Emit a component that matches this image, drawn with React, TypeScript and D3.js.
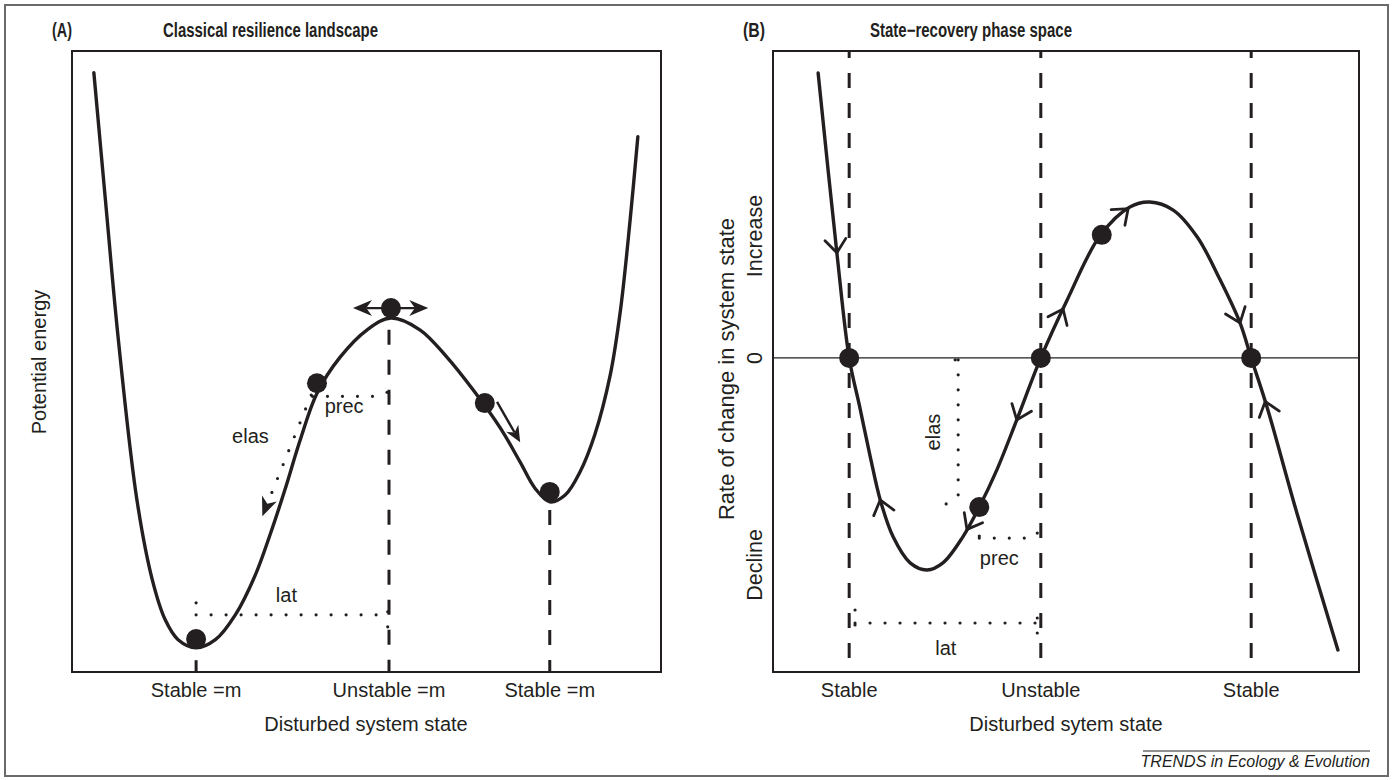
import React from 'react';
import * as d3 from 'd3';

const W = 1396;
const H = 780;
const INK = '#231f20';
const FONT = '"Liberation Sans", Arial, Helvetica, sans-serif';

// (A) potential landscape
const stateA = [0.41, 0.59, 0.79, 1.08, 1.32, 1.52, 1.72, 2.0, 2.3, 2.61, 2.92, 3.15, 3.38, 3.62, 3.88, 4.24, 4.66, 5.03, 5.48, 5.9, 6.31, 6.73, 7.04, 7.27, 7.5, 7.74, 7.97, 8.2, 8.44, 8.6, 8.75, 8.87];
const energyA = [9.65, 7.6, 5.36, 2.77, 1.48, 0.84, 0.52, 0.39, 0.52, 0.92, 1.56, 2.21, 2.93, 3.74, 4.49, 5.07, 5.51, 5.7, 5.51, 5.07, 4.54, 3.93, 3.38, 2.96, 2.74, 2.85, 3.22, 3.82, 4.78, 5.83, 7.28, 8.62];
const ticksA = [2, 5, 7.5];
const tickLabelsA = ['Stable =m', 'Unstable =m', 'Stable =m'];
const guideTopA = [0.19, 5.51, 2.61];
const ballStateA = [2.0, 3.88, 5.03, 6.49, 7.5];
const ballEnergyA = [0.53, 4.65, 5.86, 4.33, 2.9];

// (B) state-recovery phase space
const stateB = [0.77, 1.09, 1.3, 1.48, 1.66, 1.83, 2.05, 2.34, 2.63, 2.9, 3.24, 3.52, 3.82, 4.16, 4.57, 5.02, 5.58, 6.09, 6.43, 6.83, 7.24, 7.63, 7.97, 8.16, 8.43, 8.94, 9.64];
const rateB = [9.19, 3.39, 0, -1.58, -3.19, -4.58, -5.77, -6.61, -6.84, -6.61, -5.77, -4.81, -3.61, -2.0, 0, 1.87, 3.94, 4.87, 5.03, 4.77, 3.9, 2.52, 1.13, 0, -1.58, -5.0, -9.42];
const ticksB = [1.3, 4.57, 8.16];
const tickLabelsB = ['Stable', 'Unstable', 'Stable'];
const ballStateB = [1.3, 4.57, 8.16, 5.61, 3.52];
const ballRateB = [0, 0, 0, 3.97, -4.81];
const chevronStateB = [1.09, 1.83, 3.31, 4.16, 4.95, 6.06, 7.97, 8.4];

type P = [number, number];

function interp(xs: number[], ys: number[], x: number) {
  let i = d3.bisectRight(xs, x) - 1;
  i = Math.max(0, Math.min(xs.length - 2, i));
  const t = (x - xs[i]) / (xs[i + 1] - xs[i]);
  return ys[i] + t * (ys[i + 1] - ys[i]);
}

// filled, notched arrow head; returns [path, notch point]
function head(tip: P, from: P, len = 17, half = 7.5): [string, P] {
  const dx = tip[0] - from[0];
  const dy = tip[1] - from[1];
  const n = Math.hypot(dx, dy);
  const ux = dx / n, uy = dy / n;
  const px = -uy, py = ux;
  const bx = tip[0] - ux * len, by = tip[1] - uy * len;
  const notch: P = [tip[0] - ux * len * 0.7, tip[1] - uy * len * 0.7];
  const d = `M${tip[0]},${tip[1]}L${bx + px * half},${by + py * half}L${notch[0]},${notch[1]}L${bx - px * half},${by - py * half}Z`;
  return [d, notch];
}

const Dots = ({ a, b }: { a: P; b: P }) => (
  <line x1={a[0]} y1={a[1]} x2={b[0]} y2={b[1]} stroke={INK} strokeWidth={3.2}
    strokeLinecap="round" strokeDasharray="0 15" />
);

export default function App() {
  const xA = d3.scaleLinear().domain([0.07, 9.23]).range([72, 661]);
  const yA = d3.scaleLinear().domain([0, 10]).range([672, 51]);
  const xB = d3.scaleLinear().domain([0, 10]).range([773, 1359]);
  const yB = d3.scaleLinear().domain([-10.13, 9.9]).range([672, 51]);

  const lineA = d3.line<number>().x(d => xA(d)).y((d, i) => yA(energyA[i])).curve(d3.curveCatmullRom.alpha(0.5));
  const lineB = d3.line<number>().x(d => xB(d)).y((d, i) => yB(rateB[i])).curve(d3.curveCatmullRom.alpha(0.5));

  const pA = (s: number, e: number): P => [xA(s), yA(e)];
  const pB = (s: number, r: number): P => [xB(s), yB(r)];

  // panel A arrows
  const pushL = pA(4.44, 5.86), pushR = pA(5.61, 5.86), pushC = pA(5.03, 5.86);
  const [hL, nL] = head(pushL, pushC, 19, 8);
  const [hR, nR] = head(pushR, pushC, 19, 8);
  const slideFrom = pA(6.68, 4.35), slideTo = pA(7.04, 3.7);
  const [hS, nS] = head(slideTo, slideFrom, 16, 7);
  const elasFrom = pA(3.79, 4.46), elasTo = pA(3.03, 2.51);
  const [hE, nE] = head(elasTo, elasFrom, 19, 8);

  // chevrons along B, pointing the way the state moves
  const chevrons = chevronStateB.map(s => {
    const h = 0.04;
    const r = interp(stateB, rateB, s);
    const a = pB(s - h, interp(stateB, rateB, s - h));
    const b = pB(s + h, interp(stateB, rateB, s + h));
    const sg = Math.sign(r);
    let dx = (b[0] - a[0]) * sg, dy = (b[1] - a[1]) * sg;
    const n = Math.hypot(dx, dy);
    dx /= n; dy /= n;
    const tip = pB(s, r);
    const L = 17, th = (38 * Math.PI) / 180;
    const c = Math.cos(th), sn = Math.sin(th);
    const a1: P = [tip[0] - L * (c * dx - sn * dy), tip[1] - L * (c * dy + sn * dx)];
    const a2: P = [tip[0] - L * (c * dx + sn * dy), tip[1] - L * (c * dy - sn * dx)];
    return `M${a1[0]},${a1[1]}L${tip[0]},${tip[1]}L${a2[0]},${a2[1]}`;
  });

  const zeroY = yB(0);
  const txt = { fontFamily: FONT, fontSize: 20, fill: INK } as const;
  const bold = { fontFamily: FONT, fontWeight: 'bold', fontSize: 19.5, fill: INK, lengthAdjust: 'spacingAndGlyphs' } as const;

  // bracket end bars (vertical / horizontal)
  const vbar = (p: P, up = 7, down = 8) => <Dots a={[p[0], p[1] - up]} b={[p[0], p[1] + down]} />;
  const hbar = (p: P, l = 7, r = 8) => <Dots a={[p[0] - l, p[1]]} b={[p[0] + r, p[1]]} />;

  const latA0 = pA(2.0, 0.92), latA1 = pA(4.98, 0.92);
  const precA0 = pA(3.81, 4.44), precA1 = pA(4.97, 4.44);
  const elasB0 = pB(3.16, -0.06), elasB1 = pB(3.16, -4.71);
  const precB0 = pB(3.52, -5.81), precB1 = pB(4.51, -5.81);
  const latB0 = pB(1.4, -8.55), latB1 = pB(4.51, -8.55);

  return (
    <svg width={W} height={H} style={{ position: 'absolute', left: 0, top: 0, background: '#fff' }}>
      <rect x={5} y={5} width={1383} height={771} fill="none" stroke="#6a6a6a" strokeWidth={2} />

      {/* ---------- Panel A ---------- */}
      <text {...bold} x={52} y={37} textLength={20}>(A)</text>
      <text {...bold} x={163} y={37} textLength={215}>Classical resilience landscape</text>
      <rect x={72} y={51} width={589} height={621} fill="none" stroke={INK} strokeWidth={2} />

      {ticksA.map((t, i) => (
        <line key={'ga' + i} x1={xA(t)} x2={xA(t)} y1={yA(guideTopA[i])} y2={672} stroke={INK} strokeWidth={3} strokeDasharray="15 15" />
      ))}

      <Dots a={latA0} b={latA1} />
      {vbar(latA0, 12, 3)}
      {vbar(latA1, 3, 13)}
      <Dots a={precA0} b={precA1} />
      {vbar(precA1, 4, 11)}
      <Dots a={elasFrom} b={nE} />
      <path d={hE} fill={INK} />

      <path d={lineA(stateA) || ''} fill="none" stroke={INK} strokeWidth={3.4} strokeLinecap="round" />

      <line x1={nL[0]} y1={nL[1]} x2={nR[0]} y2={nR[1]} stroke={INK} strokeWidth={2.4} />
      <path d={hL} fill={INK} />
      <path d={hR} fill={INK} />
      <line x1={slideFrom[0]} y1={slideFrom[1]} x2={nS[0]} y2={nS[1]} stroke={INK} strokeWidth={2.4} />
      <path d={hS} fill={INK} />

      {ballStateA.map((s, i) => (
        <circle key={'ba' + i} cx={xA(s)} cy={yA(ballEnergyA[i])} r={10} fill={INK} />
      ))}

      <text {...txt} x={xA(2.56)} y={yA(3.69)}>elas</text>
      <text {...txt} x={xA(4.0)} y={yA(4.17)}>prec</text>
      <text {...txt} x={xA(3.24)} y={yA(1.13)}>lat</text>

      {ticksA.map((t, i) => (
        <text key={'ta' + i} {...txt} x={xA(t)} y={697} textAnchor="middle">{tickLabelsA[i]}</text>
      ))}
      <text {...txt} x={366} y={731} textAnchor="middle">Disturbed system state</text>
      <text {...txt} transform="translate(46,362) rotate(-90)" textAnchor="middle">Potential energy</text>

      {/* ---------- Panel B ---------- */}
      <text {...bold} x={743} y={37} textLength={22}>(B)</text>
      <text {...bold} x={870} y={37} textLength={202}>State−recovery phase space</text>
      <rect x={773} y={51} width={586} height={621} fill="none" stroke={INK} strokeWidth={2} />
      <line x1={773} x2={1359} y1={zeroY} y2={zeroY} stroke={INK} strokeWidth={1.2} />

      {ticksB.map((t, i) => (
        <line key={'gb' + i} x1={xB(t)} x2={xB(t)} y1={51} y2={672} stroke={INK} strokeWidth={3} strokeDasharray="15 15" strokeDashoffset={8} />
      ))}

      <Dots a={elasB0} b={elasB1} />
      {hbar(elasB0, 3, 12)}
      {hbar(elasB1, 12, 2)}
      <Dots a={precB0} b={precB1} />
      {vbar(precB0, 2, 3)}
      {vbar(precB1, 5, 10)}
      <Dots a={latB0} b={latB1} />
      {vbar(latB0, 13, 3)}
      {vbar(latB1, 5, 12)}

      <path d={lineB(stateB) || ''} fill="none" stroke={INK} strokeWidth={3.4} strokeLinecap="round" />
      {chevrons.map((d, i) => (
        <path key={'cv' + i} d={d} fill="none" stroke={INK} strokeWidth={2.8} strokeLinecap="round" strokeLinejoin="miter" />
      ))}
      {ballStateB.map((s, i) => (
        <circle key={'bb' + i} cx={xB(s)} cy={yB(ballRateB[i])} r={10} fill={INK} />
      ))}

      <text {...txt} transform={`translate(${xB(2.85)},${yB(-2.39)}) rotate(-90)`} textAnchor="middle">elas</text>
      <text {...txt} x={xB(3.53)} y={yB(-6.68)}>prec</text>
      <text {...txt} x={xB(2.95)} y={yB(-9.58)} textAnchor="middle">lat</text>

      {ticksB.map((t, i) => (
        <text key={'tb' + i} {...txt} x={xB(t)} y={697} textAnchor="middle">{tickLabelsB[i]}</text>
      ))}
      <text {...txt} x={1066} y={731} textAnchor="middle">Disturbed sytem state</text>
      <text {...txt} fontSize={22} transform="translate(734,369) rotate(-90)" textAnchor="middle">Rate of change in system state</text>
      <text {...txt} fontSize={21.5} transform="translate(762,236) rotate(-90)" textAnchor="middle">Increase</text>
      <text {...txt} fontSize={21.5} transform={`translate(762,${zeroY}) rotate(-90)`} textAnchor="middle">0</text>
      <text {...txt} fontSize={21.5} transform="translate(762,565) rotate(-90)" textAnchor="middle">Decline</text>

      <line x1={1143} x2={1370} y1={751} y2={751} stroke={INK} strokeWidth={1} />
      <text x={1370} y={767} textAnchor="end" fontFamily={FONT} fontStyle="italic" fontSize={16} fill={INK}>TRENDS in Ecology &amp; Evolution</text>
    </svg>
  );
}
